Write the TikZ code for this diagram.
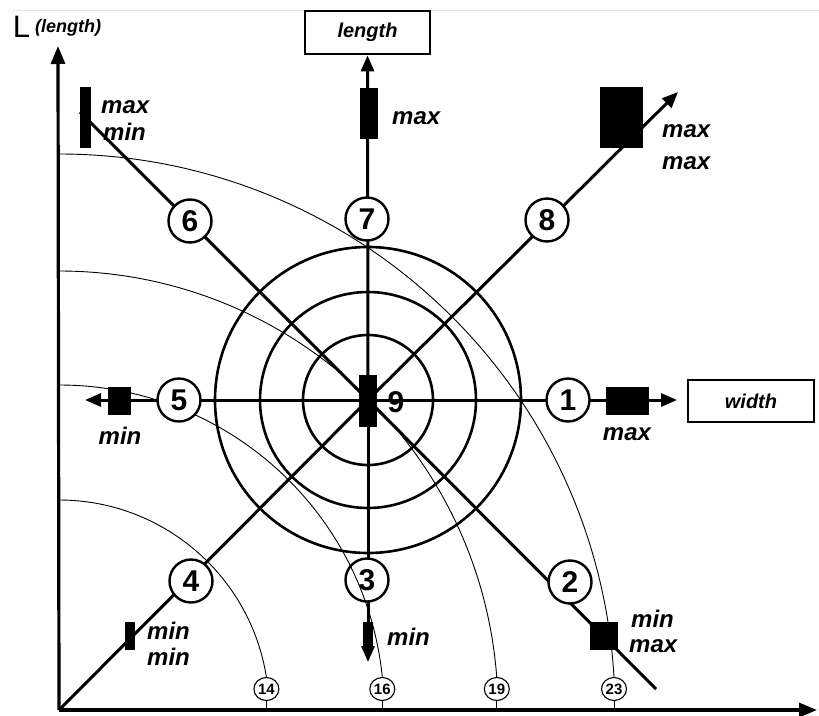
\documentclass[tikz,border=0pt]{standalone}
\usepackage{fontspec}
\setmainfont{Liberation Sans}
\usetikzlibrary{arrows.meta,shapes.geometric}

\begin{document}
\begin{tikzpicture}[x=1pt,y=-1pt,
  axisline/.style={line width=3.2pt,-{Triangle[length=18pt,width=14pt]}},
  ray/.style={line width=3.0pt},
  rayarrow/.style={line width=3.0pt,-{Triangle[length=16pt,width=13pt]}},
  ring/.style={line width=2.6pt},
  iso/.style={line width=0.9pt},
  num/.style={circle,draw,line width=2.4pt,fill=white,minimum size=43pt,inner sep=0pt,
    font=\fontsize{30}{30}\selectfont\bfseries},
  bar/.style={fill=black,draw=none,inner sep=0pt,outer sep=0pt},
  tag/.style={inner sep=0pt,font=\fontsize{24}{24}\selectfont\bfseries\itshape},
  dimbox/.style={draw,line width=2.8pt,fill=white,inner sep=0pt,
    font=\fontsize{20}{20}\selectfont\bfseries\itshape},
  size/.style={ellipse,draw,line width=1.1pt,fill=white,inner sep=0pt,
    minimum width=25pt,minimum height=23pt,font=\fontsize{15}{15}\selectfont\bfseries},
]
\useasboundingbox (0,0) rectangle (819,715);

% faint rule along the top edge
\draw[black!10,line width=0.8pt] (12,10) -- (819,10);

% key points
\coordinate (O) at (59,710);
\coordinate (ctr) at (368,400);
\coordinate (ytip) at (58,46);
\coordinate (xtip) at (817,710);
\coordinate (e1) at (677,400);
\coordinate (e2) at (656,689);
\coordinate (e3) at (368,662);
\coordinate (e5) at (85,400);
\coordinate (e6) at (80,112);
\coordinate (e8) at (678,92);

% size arcs centred on the origin
\draw[iso] (59,500) arc[start angle=-90,end angle=-9.04,radius=210];
\draw[iso] (59,385) arc[start angle=-90,end angle=-5.83,radius=325];
\draw[iso] (59,271) arc[start angle=-90,end angle=-4.31,radius=439];
\draw[iso] (59,154) arc[start angle=-90,end angle=-3.40,radius=556];

% axes
\draw[axisline] (O) -- (ytip);
\draw[axisline] (O) -- (xtip);
\node[inner sep=0pt,font=\fontsize{31}{31}\selectfont] (ylab) at (21.5,27) {L};
\node[inner sep=0pt,font=\fontsize{18}{18}\selectfont\bfseries\itshape] (ylab2) at (68,28) {(length)};

% target rings
\draw[ring] (ctr) circle[radius=65];
\draw[ring] (ctr) circle[radius=108];
\draw[ring] (ctr) circle[radius=153];

% direction boxes
\node[dimbox,minimum width=125pt,minimum height=43pt] (lenbox) at (367.5,32.5) {length};
\node[dimbox,minimum width=126pt,minimum height=42pt] (widbox) at (751,401) {width};

% rays
\draw[ray] (ctr) -- (e6);
\draw[ray] (ctr) -- (O);
\draw[ray] (ctr) -- (e2);
\draw[rayarrow] (ctr) -- (e8);
\draw[rayarrow] (ctr) -- (lenbox.south);
\draw[rayarrow] (ctr) -- (e3);
\draw[rayarrow] (ctr) -- (e1);
\draw[rayarrow] (ctr) -- (e5);

% numbered directions
\node[num] (n1) at (568,400) {1};
\node[num] (n2) at (570,582) {2};
\node[num] (n3) at (367,580) {3};
\node[num] (n4) at (191,581) {4};
\node[num] (n5) at (179,400) {5};
\node[num] (n6) at (190,221) {6};
\node[num] (n7) at (367,219) {7};
\node[num] (n8) at (547,220) {8};

% the 16 arc runs across direction 3
\begin{scope}
  \clip (n3) circle[radius=23];
  \draw[iso] (59,385) arc[start angle=-90,end angle=-5.83,radius=325];
\end{scope}

% bars
\node[bar,minimum width=11pt,minimum height=61pt] (b6) at (85.5,117.5) {};
\node[bar,minimum width=18pt,minimum height=51pt] (b7) at (369,113) {};
\node[bar,minimum width=43pt,minimum height=61pt] (b8) at (621.5,117.5) {};
\node[bar,minimum width=23pt,minimum height=28pt] (b5) at (119.5,401) {};
\node[bar,minimum width=18pt,minimum height=52pt] (b9) at (368,400.5) {};
\node[bar,minimum width=43pt,minimum height=28pt] (b1) at (627,400.5) {};
\node[bar,minimum width=10pt,minimum height=28pt] (b4) at (130,636) {};
\node[bar,minimum width=10pt,minimum height=26pt] (b3) at (368,635) {};
\node[bar,minimum width=28pt,minimum height=28pt] (b2) at (604,636) {};

\node[inner sep=0pt,font=\fontsize{30}{30}\selectfont\bfseries] (n9) at (396,402) {9};

% bar labels
\node[tag,anchor=west] (t6a) at (101,107) {max};
\node[tag,anchor=west] (t6b) at (103,132) {min};
\node[tag,anchor=west] (t7) at (392,118) {max};
\node[tag,anchor=west] (t8a) at (662,131) {max};
\node[tag,anchor=west] (t8b) at (662,163) {max};
\node[tag] (t5) at (120,436) {min};
\node[tag] (t1) at (627,434) {max};
\node[tag,anchor=west] (t4a) at (147,631) {min};
\node[tag,anchor=west] (t4b) at (147,657) {min};
\node[tag,anchor=west] (t3) at (387,637) {min};
\node[tag,anchor=west] (t2a) at (631,619) {min};
\node[tag,anchor=west] (t2b) at (629,646) {max};

% arc size tags on the width axis
\node[size] (s14) at (266.4,689) {14};
\node[size] (s16) at (382.3,689) {16};
\node[size] (s19) at (496.8,689) {19};
\node[size] (s23) at (614.0,689) {23};
\foreach \s in {s14,s16,s19,s23}
  \draw[iso] (\s.south) -- (\s.south |- O);
\end{tikzpicture}
\end{document}
